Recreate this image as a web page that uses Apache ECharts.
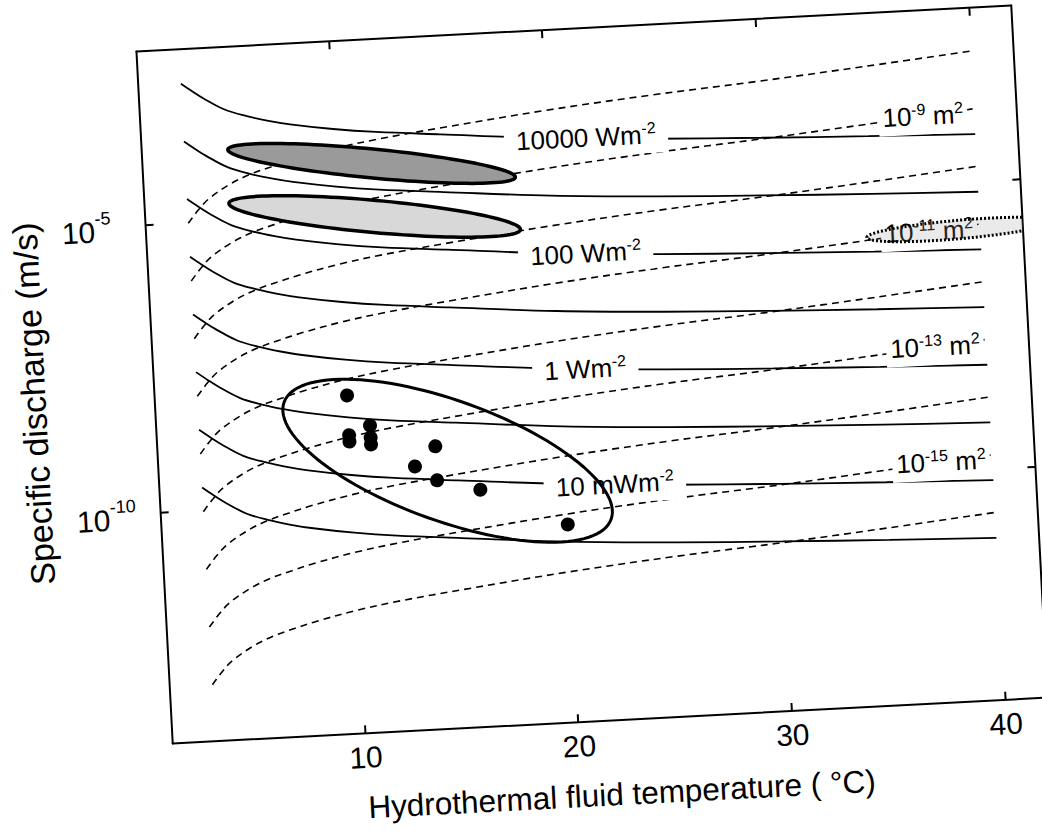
<!DOCTYPE html>
<html><head><meta charset="utf-8">
<script src="https://cdn.jsdelivr.net/npm/echarts@6/dist/echarts.min.js"></script>
<style>
html,body{margin:0;padding:0;background:#fff;overflow:hidden;width:1042px;height:835px}
#c{position:absolute;left:0;top:0;width:1042px;height:835px;transform-origin:592px 374.5px;transform:rotate(-3deg);}
</style></head><body><div id="c"></div>
<script>
// ---- data (x = temperature in degC, y = log10 of specific discharge in m/s) ----
const xTicks = [10, 20, 30, 40];
const yTicks = [-10, -5];
const tempX = [3, 3.5, 4, 5, 6, 7, 8, 10, 12, 15, 20, 25, 30, 35, 40];

// heat-flux contours (solid)
const heat_1e4  = [-2.60,-2.74,-2.87,-3.09,-3.22,-3.32,-3.40,-3.52,-3.61,-3.71,-3.87,-3.98,-4.06,-4.13,-4.19];
const heat_1e3  = [-3.60,-3.74,-3.87,-4.09,-4.22,-4.32,-4.40,-4.52,-4.61,-4.71,-4.87,-4.98,-5.06,-5.13,-5.19];
const heat_1e2  = [-4.60,-4.74,-4.87,-5.09,-5.22,-5.32,-5.40,-5.52,-5.61,-5.71,-5.87,-5.98,-6.06,-6.13,-6.19];
const heat_1e1  = [-5.60,-5.74,-5.87,-6.09,-6.22,-6.32,-6.40,-6.52,-6.61,-6.71,-6.87,-6.98,-7.06,-7.13,-7.19];
const heat_1e0  = [-6.60,-6.74,-6.87,-7.09,-7.22,-7.32,-7.40,-7.52,-7.61,-7.71,-7.87,-7.98,-8.06,-8.13,-8.19];
const heat_1em1 = [-7.60,-7.74,-7.87,-8.09,-8.22,-8.32,-8.40,-8.52,-8.61,-8.71,-8.87,-8.98,-9.06,-9.13,-9.19];
const heat_1em2 = [-8.60,-8.74,-8.87,-9.09,-9.22,-9.32,-9.40,-9.52,-9.61,-9.71,-9.87,-9.98,-10.06,-10.13,-10.19];
const heat_1em3 = [-9.60,-9.74,-9.87,-10.09,-10.22,-10.32,-10.40,-10.52,-10.61,-10.71,-10.87,-10.98,-11.06,-11.13,-11.19];

// permeability contours (dashed)
const perm_1em8  = [-5.02,-4.80,-4.62,-4.39,-4.23,-4.12,-4.02,-3.86,-3.74,-3.60,-3.39,-3.22,-3.08,-2.92,-2.75];
const perm_1em9  = [-6.02,-5.80,-5.62,-5.39,-5.23,-5.12,-5.02,-4.86,-4.74,-4.60,-4.39,-4.22,-4.08,-3.92,-3.75];
const perm_1em10 = [-7.02,-6.80,-6.62,-6.39,-6.23,-6.12,-6.02,-5.86,-5.74,-5.60,-5.39,-5.22,-5.08,-4.92,-4.75];
const perm_1em11 = [-8.02,-7.80,-7.62,-7.39,-7.23,-7.12,-7.02,-6.86,-6.74,-6.60,-6.39,-6.22,-6.08,-5.92,-5.75];
const perm_1em12 = [-9.02,-8.80,-8.62,-8.39,-8.23,-8.12,-8.02,-7.86,-7.74,-7.60,-7.39,-7.22,-7.08,-6.92,-6.75];
const perm_1em13 = [-10.02,-9.80,-9.62,-9.39,-9.23,-9.12,-9.02,-8.86,-8.74,-8.60,-8.39,-8.22,-8.08,-7.92,-7.75];
const perm_1em14 = [-11.02,-10.80,-10.62,-10.39,-10.23,-10.12,-10.02,-9.86,-9.74,-9.60,-9.39,-9.22,-9.08,-8.92,-8.75];
const perm_1em15 = [-12.02,-11.80,-11.62,-11.39,-11.23,-11.12,-11.02,-10.86,-10.74,-10.60,-10.39,-10.22,-10.08,-9.92,-9.75];
const perm_1em16 = [-13.02,-12.80,-12.62,-12.39,-12.23,-12.12,-12.02,-11.86,-11.74,-11.60,-11.39,-11.22,-11.08,-10.92,-10.75];

// contour labels
const heatLabelText = ['10000 Wm', '100 Wm', '1 Wm', '10 mWm'];
const heatLabelX = [21.8, 21.5, 21.2, 22.3];
const heatLabelY = [-3.90, -5.90, -7.90, -9.92];
const permLabelExp = ['-9', '-11', '-13', '-15'];
const permLabelX = [37.6, 37.6, 37.6, 37.6];
const permLabelY = [-3.83, -5.83, -7.83, -9.83];

// observations (black dots)
const obsT = [10, 11, 10, 10, 11, 11, 14, 13, 14, 16, 20];
const obsQ = [-8.14, -8.68, -8.83, -8.94, -8.89, -9.01, -9.10, -9.43, -9.69, -9.89, -10.57];

// ellipses: major-axis end points (x1, y1, x2, y2) and minor/major ratio
const ellipseDark   = [5.03, -3.78, 18.40, -4.52, 0.10];
const ellipseLight  = [4.95, -4.71, 18.51, -5.43, 0.11];
const ellipseDotted = [34.68, -5.88, 43.34, -5.77, 0.10];
const ellipseObs    = [7.04, -8.20, 22.04, -10.52, 0.347];

// ---- chart ----
const FONT = '"Liberation Sans", Arial, sans-serif';
const series = [];
const heatLines = [heat_1e4, heat_1e3, heat_1e2, heat_1e1, heat_1e0, heat_1em1, heat_1em2, heat_1em3];
heatLines.forEach(arr => series.push({
  type: 'line', data: tempX.map((x, i) => [x, arr[i]]), smooth: 0.35,
  showSymbol: false, silent: true, z: 2, lineStyle: { color: '#000', width: 1.8 }
}));
const permLines = [perm_1em8, perm_1em9, perm_1em10, perm_1em11, perm_1em12, perm_1em13, perm_1em14, perm_1em15, perm_1em16];
permLines.forEach(arr => series.push({
  type: 'line', data: tempX.map((x, i) => [x, arr[i]]), smooth: 0.35,
  showSymbol: false, silent: true, z: 2, lineStyle: { color: '#000', width: 1.6, type: [7, 5] }
}));

const richLbl = {
  t: { fontSize: 26, color: '#000', fontFamily: FONT },
  s: { fontSize: 16, color: '#000', fontFamily: FONT, padding: [0, 0, 13, 0] }
};
series.push({
  type: 'scatter', symbolSize: 0, silent: true, z: 4, itemStyle: { opacity: 1 },
  data: heatLabelX.map((x, i) => ({ value: [x, heatLabelY[i]], name: heatLabelText[i] })),
  label: { show: true, position: 'inside', backgroundColor: '#fff', padding: [4, 12],
    textBorderWidth: 0, formatter: p => '{t|' + p.name + '}{s|-2}', rich: richLbl }
});
series.push({
  type: 'scatter', symbolSize: 0, silent: true, z: 4, itemStyle: { opacity: 1 },
  data: permLabelX.map((x, i) => ({ value: [x, permLabelY[i]], name: permLabelExp[i] })),
  label: { show: true, position: 'inside', backgroundColor: '#fff', padding: [4, 4],
    textBorderWidth: 0, formatter: p => '{t|10}{s|' + p.name + '}{t| m}{s|2}', rich: richLbl }
});

const ellipseStyles = [
  { fill: '#9a9a9a', stroke: '#000', lineWidth: 3.5 },
  { fill: '#d8d8d8', stroke: '#000', lineWidth: 3.5 },
  { fill: 'rgba(160,160,160,0.22)', stroke: '#000', lineWidth: 3, lineDash: [2, 2] },
  { fill: 'none', stroke: '#000', lineWidth: 3 }
];
series.push({
  type: 'custom', z: 5, silent: true, clip: true,
  data: [ellipseDark, ellipseLight, ellipseDotted, ellipseObs],
  renderItem: (params, api) => {
    const p1 = api.coord([api.value(0), api.value(1)]);
    const p2 = api.coord([api.value(2), api.value(3)]);
    const ratio = api.value(4);
    const cx = (p1[0] + p2[0]) / 2, cy = (p1[1] + p2[1]) / 2;
    const dx = p2[0] - p1[0], dy = p2[1] - p1[1];
    const a = Math.hypot(dx, dy) / 2, b = a * ratio, ang = Math.atan2(dy, dx);
    const pts = [];
    for (let i = 0; i < 120; i++) {
      const t = i / 120 * 2 * Math.PI;
      const ex = a * Math.cos(t), ey = b * Math.sin(t);
      pts.push([cx + ex * Math.cos(ang) - ey * Math.sin(ang), cy + ex * Math.sin(ang) + ey * Math.cos(ang)]);
    }
    const st = ellipseStyles[params.dataIndex];
    return { type: 'polygon', shape: { points: pts }, style: Object.assign({}, st) };
  }
});
series.push({
  type: 'scatter', z: 6, silent: true, symbolSize: 14, itemStyle: { color: '#000', opacity: 1 },
  data: obsT.map((t, i) => [t, obsQ[i]])
});

const axisLineStyle = { show: true, lineStyle: { color: '#000', width: 2 } };
const tickStyle = { show: true, inside: true, length: 8, lineStyle: { color: '#000', width: 2 } };

const chart = echarts.init(document.getElementById('c'), null, { renderer: 'svg' });
chart.setOption({
  backgroundColor: '#fff',
  animation: false,
  textStyle: { fontFamily: FONT },
  grid: { left: 154, top: 28, width: 876, height: 693, containLabel: false },
  xAxis: [
    { type: 'value', min: 1, max: 42, position: 'bottom',
      name: 'Hydrothermal fluid temperature ( °C)', nameLocation: 'middle', nameGap: 58,
      nameTextStyle: { fontSize: 31.5, color: '#000', fontFamily: FONT, padding: [0, 0, 0, 16] },
      axisLine: axisLineStyle, axisTick: Object.assign({ customValues: xTicks }, tickStyle),
      axisLabel: { customValues: xTicks, fontSize: 30, color: '#000', margin: 9, fontFamily: FONT },
      splitLine: { show: false } },
    { type: 'value', min: 1, max: 42, position: 'top',
      axisLine: axisLineStyle, axisTick: Object.assign({ customValues: xTicks }, tickStyle),
      axisLabel: { show: false, customValues: xTicks }, splitLine: { show: false } }
  ],
  yAxis: [
    { type: 'value', min: -14, max: -2, position: 'left',
      name: 'Specific discharge (m/s)', nameLocation: 'middle', nameGap: 104, nameRotate: 90,
      nameTextStyle: { fontSize: 34, color: '#000', fontFamily: FONT },
      axisLine: axisLineStyle, axisTick: Object.assign({ customValues: yTicks }, tickStyle),
      axisLabel: { customValues: yTicks, align: 'left', margin: 84,
        formatter: v => '{b|10}{s|' + v + '}',
        rich: { b: { fontSize: 30, color: '#000', fontFamily: FONT, padding: [10, 0, 0, 0] },
                s: { fontSize: 18, color: '#000', fontFamily: FONT, padding: [0, 0, 16, 0] } } },
      splitLine: { show: false } },
    { type: 'value', min: -14, max: -2, position: 'right',
      axisLine: axisLineStyle, axisTick: Object.assign({ customValues: yTicks }, tickStyle),
      axisLabel: { show: false, customValues: yTicks }, splitLine: { show: false } }
  ],
  series: series
});
</script></body></html>
